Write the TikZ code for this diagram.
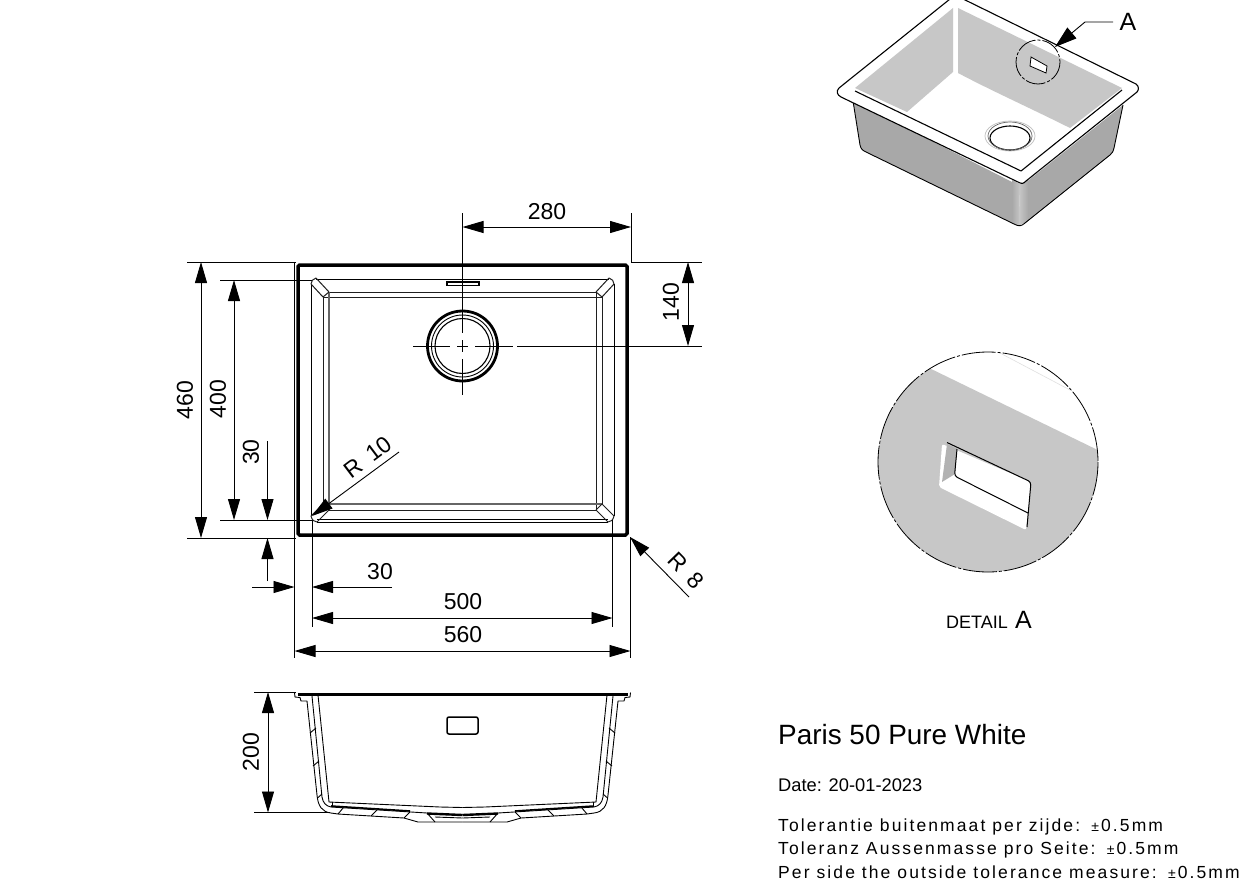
\documentclass[tikz,border=0pt]{standalone}
\usepackage{fontspec}
\setmainfont{Liberation Sans}
\newfontfamily\spacedfont[LetterSpace=12]{Liberation Sans}
\usetikzlibrary{arrows.meta,calc}
\definecolor{wallgray}{gray}{0.78}
\definecolor{facegray}{gray}{0.66}
\tikzset{
  thinln/.style={line width=0.9pt,black},
  thickln/.style={line width=3.5pt,black},
  midln/.style={line width=1.1pt,black},
  dimln/.style={thinln,{Triangle[length=21pt,width=12pt]}-{Triangle[length=21pt,width=12pt]}},
  onetip/.style={thinln,-{Triangle[length=21pt,width=12pt]}},
  dimtxt/.style={font=\fontsize{23}{23}\selectfont,inner sep=0pt},
  softln/.style={line width=1pt,black!88},
  grayln/.style={line width=1.3pt,black!60},
  dashdot/.style={line width=0.8pt,dash pattern=on 34pt off 2pt on 3pt off 2pt}
}
\newcommand{\smallpm}{\hspace{2pt}{\fontsize{14}{14}\selectfont ±}\hspace{2pt}}
\begin{document}
\begin{tikzpicture}[x=1pt,y=-1pt]
\useasboundingbox (0,0) rectangle (1249,883);
\fill[white] (0,0) rectangle (1249,883);

% ---------- plan view ----------
\draw[thickln,rounded corners=1.5pt] (298,265) rectangle (627,535);
% inner basin lines
\draw[softln] (329,292) -- (596,292);
\draw[softln] (323,297) -- (602,297);
\draw[softln] (323,297) -- (323,504);
\draw[grayln] (329,292) -- (329,510);
\draw[softln] (596,292) -- (596,510);
\draw[softln] (602,297) -- (602,504);
\draw[grayln] (323,504) -- (602,504);
\draw[softln] (329,510) -- (596,510);
% rim lines
\draw[thinln] (316,279) -- (609,279);
\draw[thinln] (311,284) -- (311,516);
\draw[thinln] (614,284) -- (614,516);
\draw[thinln] (317,522) -- (608,522);
\draw[thinln] (317,519.5) -- (608,519.5);
% chamfers
\draw[softln,line join=round] (329,292) -- (323,297) -- (311,284) .. controls (311,281) and (313,279) .. (316,278) -- cycle;
\draw[softln,line join=round] (596,292) -- (602,297) -- (614,284) .. controls (614,281) and (612,279) .. (609,278) -- cycle;
\draw[softln,line join=round] (323,504) -- (329,510) -- (317,522) .. controls (314,522) and (312,520) .. (311,516) -- cycle;
\draw[softln,line join=round] (602,504) -- (596,510) -- (608,522) .. controls (611,522) and (613,520) .. (614,516) -- cycle;
% overflow slot
\draw[line width=1.2pt] (447,282) rectangle (479,285.5);
% drain
\draw[line width=2.8pt] (462.5,346) circle (35);
\draw[thinln] (462.5,346) circle (31);
\draw[line width=1.1pt] (462.5,346) circle (27.5);
% centre lines
\coordinate (chA) at (413,346); \coordinate (chB) at (450,346);
\coordinate (chC) at (457,346); \coordinate (chD) at (468,346);
\coordinate (chE) at (475,346); \coordinate (chF) at (513,346);
\draw[thinln] (chA) -- (chB) (chC) -- (chD) (chE) -- (chF);
\coordinate (cvA) at (462.5,213); \coordinate (cvB) at (462.5,333);
\coordinate (cvC) at (462.5,340); \coordinate (cvD) at (462.5,352);
\coordinate (cvE) at (462.5,359); \coordinate (cvF) at (462.5,395);
\draw[thinln] (cvA) -- (cvB) (cvC) -- (cvD) (cvE) -- (cvF);

% extension lines
\coordinate (e1a) at (631,213); \coordinate (e1b) at (631,263);
\coordinate (e2a) at (632,262); \coordinate (e2b) at (702,262);
\coordinate (e3a) at (517,346); \coordinate (e3b) at (702,346);
\coordinate (e4a) at (187,262); \coordinate (e4b) at (296,262);
\coordinate (e5a) at (187,538); \coordinate (e5b) at (296,538);
\coordinate (e6a) at (220,280); \coordinate (e6b) at (312,280);
\coordinate (e7a) at (220,520); \coordinate (e7b) at (312,520);
\coordinate (e8a) at (294.5,262); \coordinate (e8b) at (294.5,658);
\coordinate (e9a) at (630.5,537); \coordinate (e9b) at (630.5,658);
\coordinate (e10a) at (312,520); \coordinate (e10b) at (312,627);
\coordinate (e11a) at (612.5,520); \coordinate (e11b) at (612.5,627);
\foreach \n in {1,...,11} \draw[thinln] (e\n a) -- (e\n b);

% dimensions, plan
\coordinate (d280a) at (462.5,227); \coordinate (d280b) at (631,227);
\draw[dimln] (d280a) -- (d280b);
\node[dimtxt] (t280) at (547,212) {280};
\coordinate (d140a) at (688,262); \coordinate (d140b) at (688,346);
\draw[dimln] (d140a) -- (d140b);
\node[dimtxt,rotate=90] (t140) at (671,302) {140};
\coordinate (d460a) at (201,262); \coordinate (d460b) at (201,538);
\draw[dimln] (d460a) -- (d460b);
\node[dimtxt,rotate=90] (t460) at (185,400) {460};
\coordinate (d400a) at (234,280); \coordinate (d400b) at (234,520);
\draw[dimln] (d400a) -- (d400b);
\node[dimtxt,rotate=90] (t400) at (218,399) {400};
\coordinate (v30a) at (267.5,441); \coordinate (v30b) at (267.5,520);
\coordinate (v30c) at (267.5,581); \coordinate (v30d) at (267.5,538);
\draw[onetip] (v30a) -- (v30b);
\draw[onetip] (v30c) -- (v30d);
\node[dimtxt,rotate=90] (t30v) at (251,452) {30};
\coordinate (h30a) at (252,587); \coordinate (h30b) at (294.5,587);
\coordinate (h30c) at (392,587); \coordinate (h30d) at (312,587);
\draw[onetip] (h30a) -- (h30b);
\draw[onetip] (h30c) -- (h30d);
\node[dimtxt] (t30h) at (380,572) {30};
\coordinate (d500a) at (312,618); \coordinate (d500b) at (612.5,618);
\draw[dimln] (d500a) -- (d500b);
\node[dimtxt] (t500) at (463,602) {500};
\coordinate (d560a) at (294.5,651); \coordinate (d560b) at (630.5,651);
\draw[dimln] (d560a) -- (d560b);
\node[dimtxt] (t560) at (463,635) {560};
\coordinate (r10a) at (399,452); \coordinate (r10b) at (312,516);
\draw[onetip] (r10a) -- (r10b);
\node[dimtxt,rotate=37] (tr10) at (367.5,457) {R\hspace{11pt}10};
\coordinate (r8a) at (689,597); \coordinate (r8b) at (630,537);
\draw[onetip] (r8a) -- (r8b);
\node[dimtxt,rotate=-46] (tr8) at (686,571) {R\hspace{11pt}8};

% ---------- section ----------
\coordinate (e12a) at (254,692.5); \coordinate (e12b) at (296,692.5);
\coordinate (e13a) at (254,812.5); \coordinate (e13b) at (330,812.5);
\draw[thinln] (e12a) -- (e12b);
\draw[thinln] (e13a) -- (e13b);
\coordinate (d200a) at (268,692); \coordinate (d200b) at (268,812.5);
\draw[dimln] (d200a) -- (d200b);
\node[dimtxt,rotate=90] (t200) at (251,752) {200};
\draw[line width=3pt] (298,694) -- (628,694);
\foreach \s/\o in {1/0,-1/-925}{
\begin{scope}[xscale=\s,xshift=\o]
\draw[thinln,line join=round] (294.5,692.5) -- (295,697) -- (300,697.5) -- (301,701) -- (307,701)
  -- (317,795) .. controls (318,806) and (322,812) .. (331,813) -- (338,814) -- (404,818) -- (418,822) -- (462.5,822);
\draw[thinln] (312,696) -- (322,797) .. controls (323,803) and (326,806) .. (331,807) -- (427,813) -- (435,822);
\draw[thinln] (318,695) -- (329,802) -- (440,807) -- (462.5,807.5);
\draw[thinln] (332,802) -- (332,806);
\draw[line width=1.6pt] (331,806) -- (410,811);
\draw[line width=2.4pt] (427,813.5) -- (462.5,815);
\draw[thinln] (435,817) -- (462.5,818);
\foreach \a/\b/\c/\d in {310/733/316/728,313/766/319/761,317.5/798/322/794,338/814/343.5/807.5,371/816/377/810,404/818/410/812}
  \draw[thinln] (\a,\b) -- (\c,\d);
\end{scope}}
\draw[line width=1.5pt,rounded corners=2pt] (447,717) rectangle (478,734);

% ---------- isometric view ----------
\begin{scope}
\clip (800,0) rectangle (1180,240);
\fill[facegray] (853,101) -- (860,145) .. controls (861,149) and (862,150) .. (866,152) -- (1014,224) -- (1016,184) -- cycle;
\fill[facegray] (1024,184) -- (1123,105) -- (1114,148) .. controls (1113,152) and (1112,153) .. (1110,155) -- (1024,224) -- cycle;
\shade[left color=facegray,right color=black!22] (1012,180) -- (1020,184) -- (1019,226) -- (1012,223) -- cycle;
\shade[left color=black!22,right color=facegray] (1019.5,184) -- (1028,178) -- (1028,220) -- (1019,226) -- cycle;
\draw[thinln,line join=round] (853,101) -- (860,145) .. controls (861,149) and (862,150) .. (866,152) -- (1014,224) .. controls (1019,226.5) and (1021,226.5) .. (1025,223) -- (1110,155) .. controls (1112,153) and (1113,152) .. (1114,148) -- (1123,105);
% rim
\draw[midln,fill=white,line join=round] (955,-5) -- (1136,84) .. controls (1139,86) and (1139,90) .. (1137,92) -- (1026,181) .. controls (1023,184) and (1022,184) .. (1018,182) -- (841,97) .. controls (837,95) and (836,91) .. (839,88) -- cycle;
% basin walls
\fill[wallgray] (855,88) -- (953,8) -- (953,72) -- (907,112) -- cycle;
\fill[wallgray] (958,8) -- (1122,88) -- (1070,128) .. controls (1030,108) and (990,90) .. (958,73) -- cycle;
\draw[midln,line join=round] (855,91) -- (1021,171) -- (1122,90);
% drain
\draw[black!25,line width=0.7pt] (1010,136) ellipse [x radius=25,y radius=15];
\draw[line width=1.1pt] (1010,138) ellipse [x radius=20,y radius=12];
\draw[black!60,line width=0.7pt] (1010,136) ellipse [x radius=22,y radius=14];
% detail circle and slot
\draw[dashdot,dash pattern=on 20pt off 2pt on 3pt off 2pt] (1038,62) circle (22);
\fill[white,draw=black,line width=0.8pt] (1031,57) -- (1047,66) -- (1046,73) -- (1030,66) -- cycle;
\end{scope}
\coordinate (ldA) at (1113,22); \coordinate (ldB) at (1085,22); \coordinate (ldC) at (1055,47);
\draw[thinln,-{Triangle[length=22pt,width=14pt]}] (ldA) -- (ldB) -- (ldC);
\node[font=\fontsize{25}{25}\selectfont,inner sep=0pt] (tA) at (1128,22) {A};

% ---------- detail A ----------
\begin{scope}
\clip (988,462) circle (110);
\fill[wallgray] (925,366) -- (1110,456) -- (1110,580) -- (870,580) -- (870,366) -- cycle;
\draw[black!12,line width=0.6pt] (1000,353) -- (1070,390);
\end{scope}
\draw[dashdot] (988,462) circle (110);
\fill[white,rounded corners=2pt] (942,444) -- (939,487) -- (1026,530) -- (1031,482) -- cycle;
\fill[black!30] (947,444) -- (957,449) -- (955,474) -- (942,482) -- cycle;
\draw[line width=1pt,rounded corners=3pt] (947,442.5) -- (1031,482) -- (1027,527);
\draw[line width=1pt,rounded corners=3pt] (957,449) -- (954.5,476) -- (1028,513);

% ---------- texts ----------
\node[font=\fontsize{18}{18}\selectfont,inner sep=0pt] (tdet) at (977,622) {DETAIL};
\node[font=\fontsize{25}{25}\selectfont,inner sep=0pt] (tdetA) at (1023.5,620) {A};
\node[anchor=base west,font=\fontsize{27.9}{27.9}\selectfont,inner sep=0pt] (ttl) at (778,744) {Paris 50 Pure White};
\node[anchor=base west,font=\fontsize{18.3}{18.3}\selectfont,inner sep=0pt] (tdate) at (778,791) {Date: 20-01-2023};
\node[anchor=base west,font=\fontsize{17.5}{17.5}\spacedfont,inner sep=0pt] (tol1) at (778,831) {Tolerantie buitenmaat per zijde: \smallpm 0.5mm};
\node[anchor=base west,font=\fontsize{17.5}{17.5}\spacedfont,inner sep=0pt] (tol2) at (778,854.5) {Toleranz Aussenmasse pro Seite: \smallpm 0.5mm};
\node[anchor=base west,font=\fontsize{17.5}{17.5}\spacedfont,inner sep=0pt] (tol3) at (778,878) {Per side the outside tolerance measure: \smallpm 0.5mm};
\end{tikzpicture}
\end{document}
